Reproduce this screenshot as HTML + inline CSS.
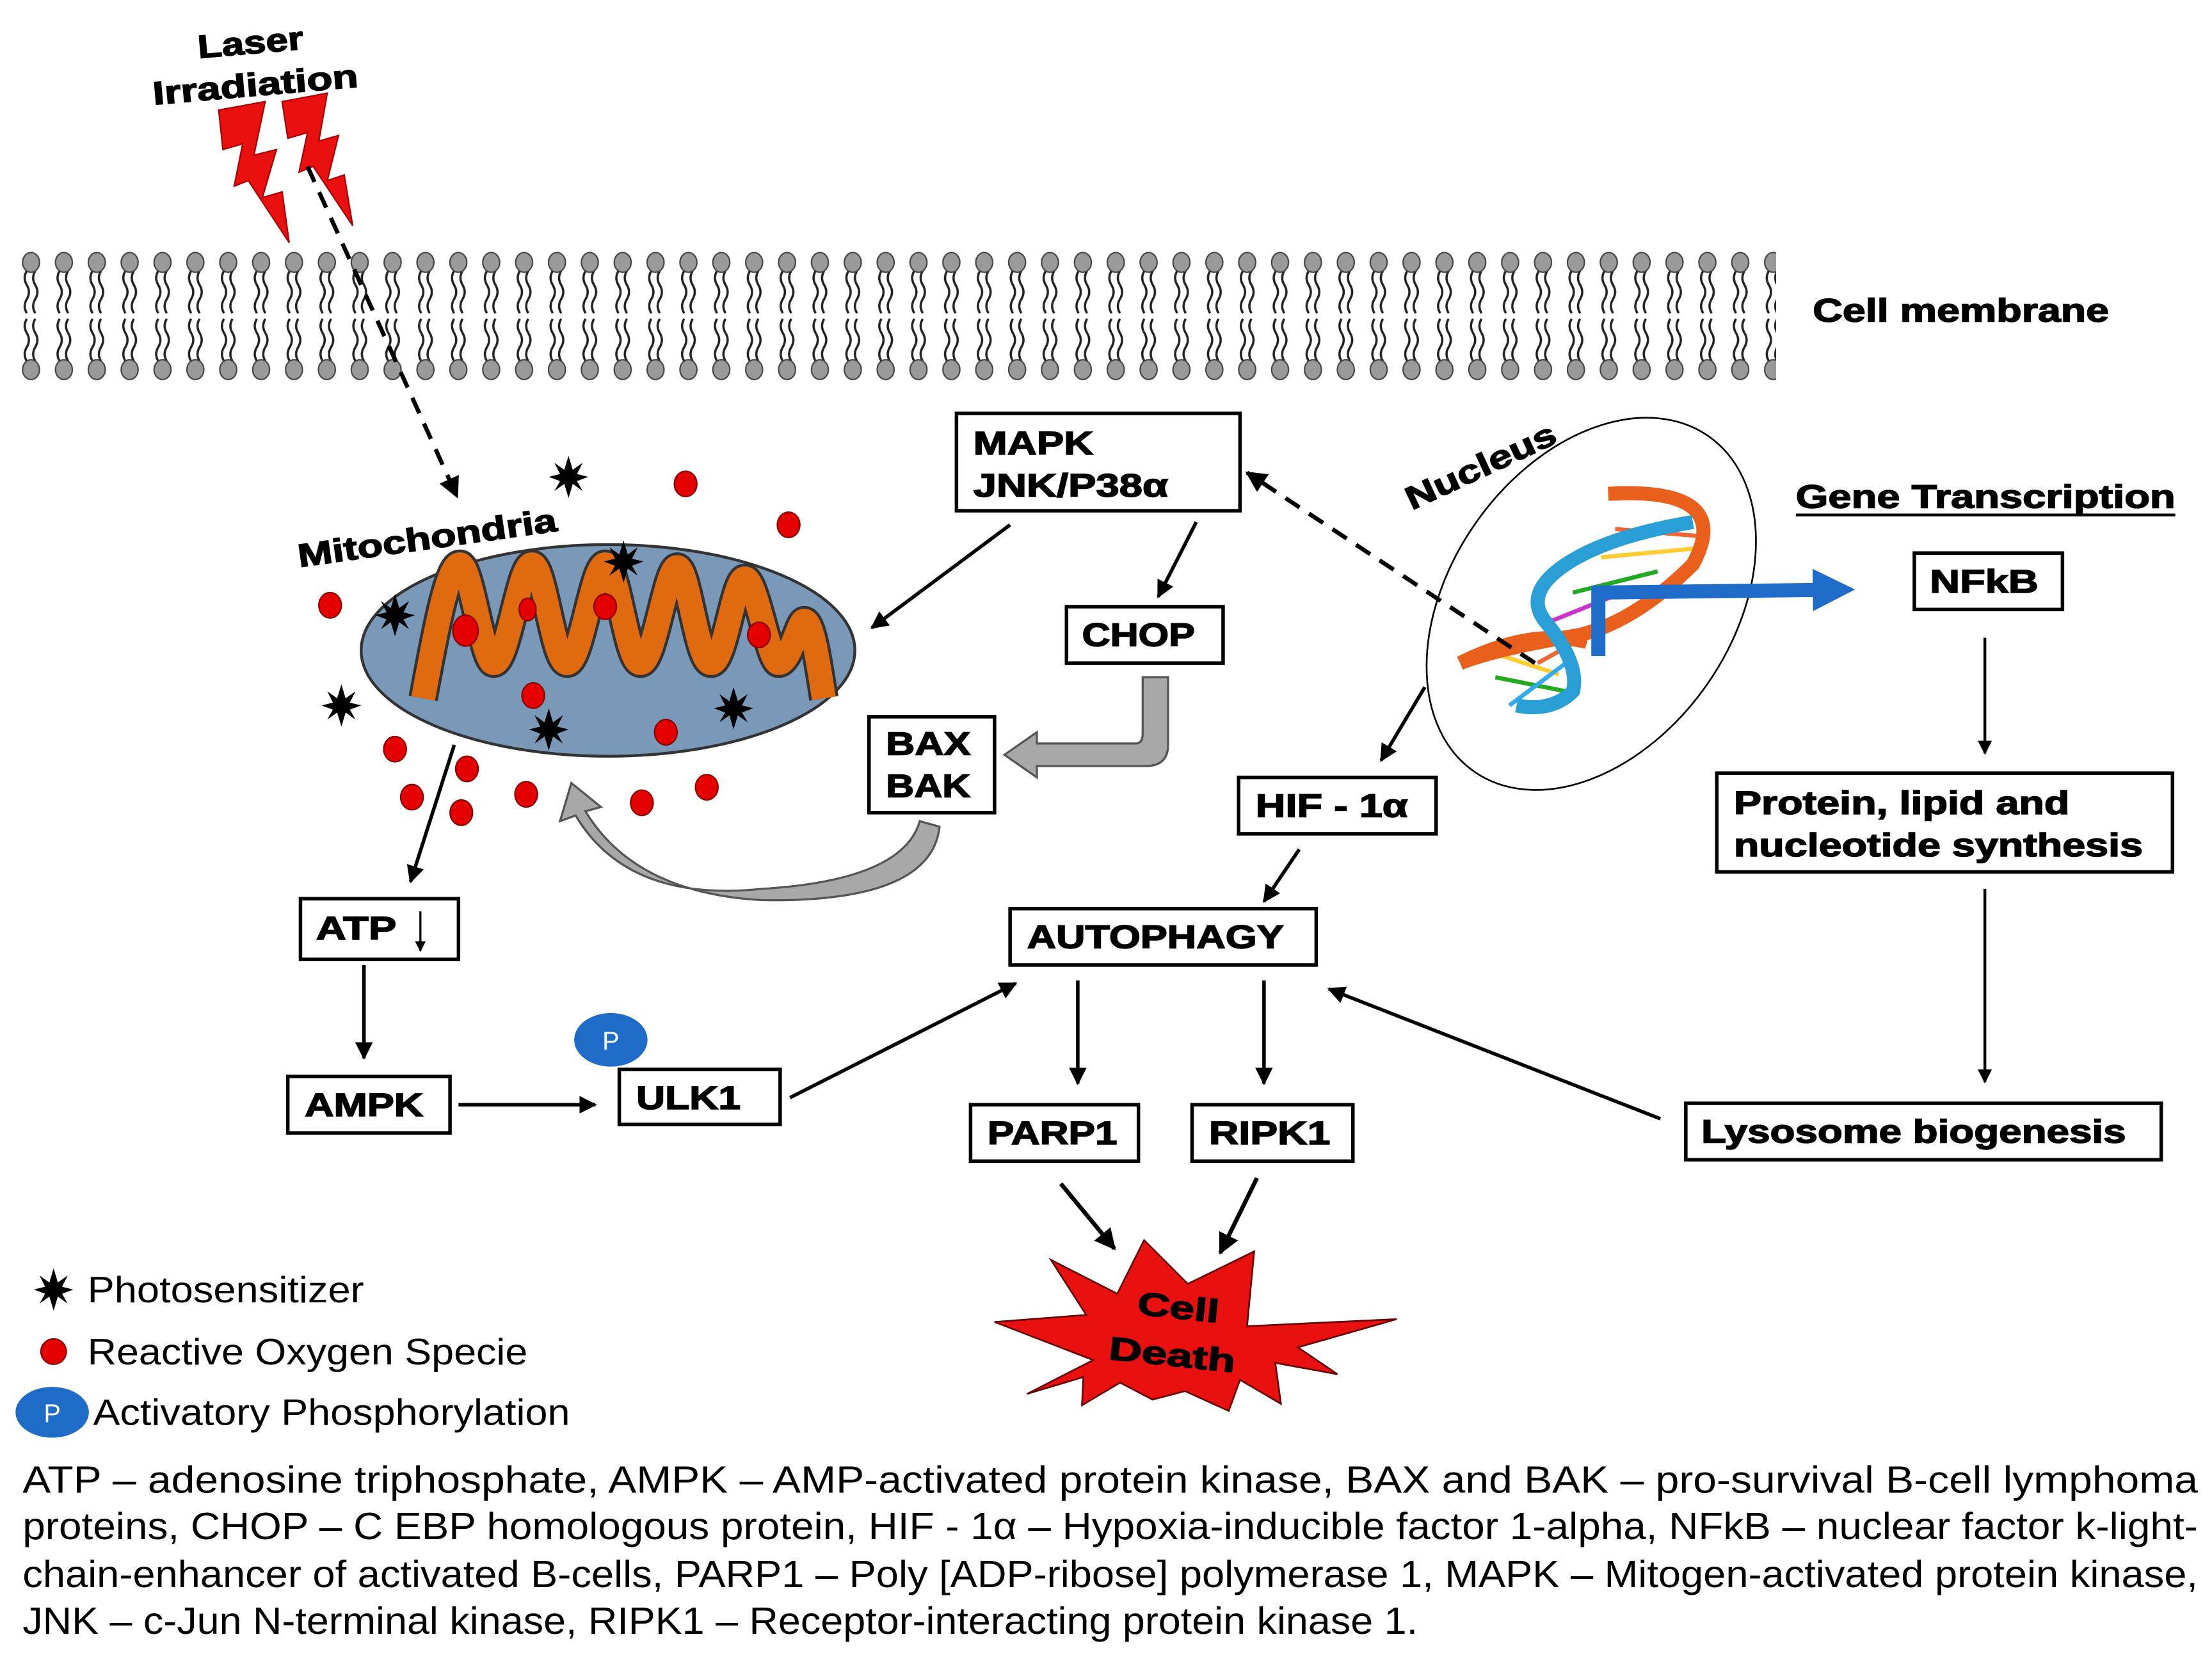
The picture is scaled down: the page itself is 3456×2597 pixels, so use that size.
<!DOCTYPE html>
<html><head><meta charset="utf-8"><style>
html,body{margin:0;padding:0;background:#fff;}
svg{display:block;}
text{font-family:"Liberation Sans",Arial,sans-serif;}
.b{font-weight:bold;font-size:23px;fill:#000;stroke:#000;stroke-width:0.7px;}
</style></head><body>
<svg width="3456" height="2597" viewBox="0 0 1568 1178" preserveAspectRatio="none" xmlns="http://www.w3.org/2000/svg">
<defs>
<marker id="ah" viewBox="0 0 10 10" refX="9" refY="5" markerWidth="5" markerHeight="5" orient="auto"><path d="M0,0 L10,5 L0,10 z" fill="#000"/></marker>
<marker id="ab" viewBox="0 0 10 10" refX="5" refY="5" markerWidth="3" markerHeight="3" orient="auto"><path d="M0,0 L10,5 L0,10 z" fill="#1f6cc8"/></marker>
<pattern id="lip" x="14" y="178" width="23.3" height="92" patternUnits="userSpaceOnUse">
<g fill="none" stroke="#222" stroke-width="1.6">
<path d="M5,14 q-3,5 0,10 q3,5 0,10 q-3,5 0,10"/>
<path d="M11,14 q-3,5 0,10 q3,5 0,10 q-3,5 0,10"/>
<path d="M5,78 q-3,-5 0,-10 q3,-5 0,-10 q-3,-5 0,-10"/>
<path d="M11,78 q-3,-5 0,-10 q3,-5 0,-10 q-3,-5 0,-10"/>
</g>
<ellipse cx="8" cy="8" rx="6" ry="7" fill="#9a9a9a" stroke="#444" stroke-width="1"/>
<ellipse cx="8" cy="84" rx="6" ry="7" fill="#9a9a9a" stroke="#444" stroke-width="1"/>
</pattern>
<g id="st"><polygon points="0,-15 3,-5 10,-10 6,-2 14,0 6,3 10,10 3,5 0,15 -3,5 -10,10 -6,3 -14,0 -6,-2 -10,-10 -3,-5" fill="#000"/></g>
</defs>

<text class="b" x="140" y="38" textLength="75" lengthAdjust="spacingAndGlyphs" transform="rotate(-5 178 30)">Laser</text>
<text class="b" x="108" y="68" textLength="146" lengthAdjust="spacingAndGlyphs" transform="rotate(-5 180 60)">Irradiation</text>
<polygon points="155,78 188,72 180,110 196,106 186,140 200,136 205,172 176,128 166,132 172,102 158,106" fill="#e8110f" stroke="#a00" stroke-width="1"/>
<polygon points="200,72 232,66 226,100 240,96 232,128 244,124 250,160 222,118 212,122 218,94 204,98" fill="#e8110f" stroke="#a00" stroke-width="1"/>

<rect x="14" y="178" width="1245" height="92" fill="url(#lip)"/>
<text class="b" x="1285" y="228" textLength="210" lengthAdjust="spacingAndGlyphs">Cell membrane</text>

<line x1="218" y1="118" x2="324" y2="352" stroke="#000" stroke-width="3" stroke-dasharray="12,8" marker-end="url(#ah)"/>

<text class="b" x="212" y="402" textLength="185" lengthAdjust="spacingAndGlyphs" transform="rotate(-8 212 400)">Mitochondria</text>
<ellipse cx="431" cy="461" rx="175" ry="75" fill="#7a98b8" stroke="#333" stroke-width="2"/>
<path d="M300,495 C310,440 318,400 326,400 C334,400 342,470 350,470 C360,470 368,400 377,400 C386,400 392,470 402,470 C412,470 420,400 429,400 C438,400 444,470 454,470 C464,470 472,402 480,402 C488,402 494,470 504,470 C514,470 520,410 528,410 C536,410 545,470 552,470 C560,470 566,440 570,440 C576,440 580,470 584,495" fill="none" stroke="#333" stroke-width="21" stroke-linejoin="round"/>
<path d="M300,495 C310,440 318,400 326,400 C334,400 342,470 350,470 C360,470 368,400 377,400 C386,400 392,470 402,470 C412,470 420,400 429,400 C438,400 444,470 454,470 C464,470 472,402 480,402 C488,402 494,470 504,470 C514,470 520,410 528,410 C536,410 545,470 552,470 C560,470 566,440 570,440 C576,440 580,470 584,495" fill="none" stroke="#e06a10" stroke-width="17" stroke-linejoin="round"/>
<g fill="#e50000" stroke="#800" stroke-width="1">
<ellipse cx="486" cy="343" rx="8" ry="9"/><ellipse cx="559" cy="372" rx="8" ry="9"/><ellipse cx="234" cy="429" rx="8" ry="9"/>
<ellipse cx="374" cy="432" rx="6" ry="8"/><ellipse cx="429" cy="430" rx="8" ry="9"/><ellipse cx="330" cy="447" rx="9" ry="11"/>
<ellipse cx="538" cy="450" rx="8" ry="9"/><ellipse cx="378" cy="493" rx="8" ry="9"/><ellipse cx="472" cy="519" rx="8" ry="9"/>
<ellipse cx="280" cy="531" rx="8" ry="9"/><ellipse cx="331" cy="545" rx="8" ry="9"/><ellipse cx="292" cy="565" rx="8" ry="9"/>
<ellipse cx="327" cy="576" rx="8" ry="9"/><ellipse cx="373" cy="563" rx="8" ry="9"/><ellipse cx="455" cy="569" rx="8" ry="9"/><ellipse cx="501" cy="558" rx="8" ry="9"/>
</g>
<use href="#st" x="403" y="338"/><use href="#st" x="442" y="398"/><use href="#st" x="280" y="436"/>
<use href="#st" x="242" y="500"/><use href="#st" x="389" y="517"/><use href="#st" x="520" y="502"/>

<rect x="678" y="293" width="201" height="69" fill="#fff" stroke="#000" stroke-width="2.5"/>
<text class="b" x="690" y="322" textLength="85" lengthAdjust="spacingAndGlyphs">MAPK</text>
<text class="b" x="690" y="352" textLength="138" lengthAdjust="spacingAndGlyphs">JNK/P38α</text>
<line x1="716" y1="372" x2="618" y2="445" stroke="#000" stroke-width="2.5" marker-end="url(#ah)"/>
<line x1="848" y1="370" x2="821" y2="423" stroke="#000" stroke-width="2.5" marker-end="url(#ah)"/>
<rect x="756" y="430" width="111" height="40" fill="#fff" stroke="#000" stroke-width="2.5"/>
<text class="b" x="767" y="458" textLength="80" lengthAdjust="spacingAndGlyphs">CHOP</text>
<path d="M810,480 L828,480 L828,528 Q828,543 812,543 L735,543 L735,551 L712,535 L735,519 L735,527 L805,527 Q810,527 810,520 Z" fill="#a8a8a8" stroke="#555" stroke-width="1.5"/>
<rect x="616" y="508" width="89" height="68" fill="#fff" stroke="#000" stroke-width="2.5"/>
<text class="b" x="628" y="535" textLength="60" lengthAdjust="spacingAndGlyphs">BAX</text>
<text class="b" x="628" y="565" textLength="60" lengthAdjust="spacingAndGlyphs">BAK</text>
<path d="M652,582 L666,586 Q660,640 540,638 Q450,633 415,575 L426,572 L405,555 L397,582 L408,578 Q445,640 540,630 Q640,624 652,582 Z" fill="#a8a8a8" stroke="#555" stroke-width="1.5"/>

<ellipse cx="1128" cy="428" rx="145" ry="100" transform="rotate(-55 1128 428)" fill="none" stroke="#000" stroke-width="1.2"/>
<text class="b" x="1000" y="362" textLength="115" lengthAdjust="spacingAndGlyphs" transform="rotate(-25 1000 360)">Nucleus</text>
<g stroke-width="3">
<line x1="1145" y1="375" x2="1205" y2="380" stroke="#e63"/><line x1="1135" y1="395" x2="1210" y2="388" stroke="#fc3"/>
<line x1="1115" y1="420" x2="1175" y2="405" stroke="#2a2"/><line x1="1100" y1="440" x2="1150" y2="420" stroke="#c3c"/>
<line x1="1090" y1="470" x2="1135" y2="445" stroke="#e63"/><line x1="1050" y1="460" x2="1105" y2="478" stroke="#fc3"/>
<line x1="1060" y1="480" x2="1110" y2="490" stroke="#2a2"/><line x1="1070" y1="500" x2="1110" y2="470" stroke="#3ae"/>
</g>
<path d="M1140,350 Q1230,345 1200,400 Q1160,440 1120,450 Q1060,460 1035,470" fill="none" stroke="#e8601c" stroke-width="10"/>
<path d="M1035,470 Q1085,445 1125,455" fill="none" stroke="#e8601c" stroke-width="10"/>
<path d="M1200,370 Q1140,380 1110,400 Q1080,420 1095,440 Q1120,470 1115,490 Q1100,505 1075,500" fill="none" stroke="#2a9fd6" stroke-width="10"/>
<path d="M1133,465 L1133,420 L1300,418" fill="none" stroke="#1f6cc8" stroke-width="10" marker-end="url(#ab)"/>
<line x1="1088" y1="470" x2="884" y2="335" stroke="#000" stroke-width="3" stroke-dasharray="12,8" marker-end="url(#ah)"/>
<line x1="1010" y1="487" x2="979" y2="539" stroke="#000" stroke-width="2.5" marker-end="url(#ah)"/>

<text class="b" x="1273" y="360" textLength="269" lengthAdjust="spacingAndGlyphs">Gene Transcription</text>
<line x1="1273" y1="365" x2="1542" y2="365" stroke="#000" stroke-width="2"/>
<rect x="1357" y="392" width="105" height="40" fill="#fff" stroke="#000" stroke-width="2.5"/>
<text class="b" x="1368" y="420" textLength="77" lengthAdjust="spacingAndGlyphs">NFkB</text>
<line x1="1407" y1="452" x2="1407" y2="534" stroke="#000" stroke-width="2" marker-end="url(#ah)"/>
<rect x="1217" y="548" width="323" height="70" fill="#fff" stroke="#000" stroke-width="2.5"/>
<text class="b" x="1229" y="577" textLength="238" lengthAdjust="spacingAndGlyphs">Protein, lipid and</text>
<text class="b" x="1229" y="607" textLength="290" lengthAdjust="spacingAndGlyphs">nucleotide synthesis</text>
<line x1="1407" y1="630" x2="1407" y2="767" stroke="#000" stroke-width="2" marker-end="url(#ah)"/>
<rect x="1195" y="782" width="337" height="40" fill="#fff" stroke="#000" stroke-width="2.5"/>
<text class="b" x="1206" y="810" textLength="301" lengthAdjust="spacingAndGlyphs">Lysosome biogenesis</text>
<line x1="1177" y1="793" x2="942" y2="701" stroke="#000" stroke-width="2.5" marker-end="url(#ah)"/>

<rect x="878" y="551" width="140" height="40" fill="#fff" stroke="#000" stroke-width="2.5"/>
<text class="b" x="890" y="579" textLength="108" lengthAdjust="spacingAndGlyphs">HIF - 1α</text>
<line x1="921" y1="602" x2="896" y2="639" stroke="#000" stroke-width="2.5" marker-end="url(#ah)"/>
<rect x="716" y="644" width="217" height="40" fill="#fff" stroke="#000" stroke-width="2.5"/>
<text class="b" x="728" y="672" textLength="182" lengthAdjust="spacingAndGlyphs">AUTOPHAGY</text>
<line x1="764" y1="695" x2="764" y2="768" stroke="#000" stroke-width="2.5" marker-end="url(#ah)"/>
<line x1="896" y1="695" x2="896" y2="768" stroke="#000" stroke-width="2.5" marker-end="url(#ah)"/>
<rect x="688" y="783" width="119" height="40" fill="#fff" stroke="#000" stroke-width="2.5"/>
<text class="b" x="700" y="811" textLength="92" lengthAdjust="spacingAndGlyphs">PARP1</text>
<rect x="845" y="783" width="114" height="40" fill="#fff" stroke="#000" stroke-width="2.5"/>
<text class="b" x="857" y="811" textLength="86" lengthAdjust="spacingAndGlyphs">RIPK1</text>
<line x1="752" y1="839" x2="790" y2="885" stroke="#000" stroke-width="3" marker-end="url(#ah)"/>
<line x1="891" y1="835" x2="865" y2="888" stroke="#000" stroke-width="3" marker-end="url(#ah)"/>
<polygon points="745,893 792,917 811,879 842,910 889,887 884,940 990,935 920,955 948,974 904,966 908,995 879,978 871,1000 840,986 817,992 794,980 767,996 768,976 728,988 775,964 705,937 770,932" fill="#e8110f" stroke="#600" stroke-width="1.2"/>
<text class="b" x="806" y="934" font-size="25" textLength="58" lengthAdjust="spacingAndGlyphs" transform="rotate(6 830 930)">Cell</text>
<text class="b" x="786" y="968" font-size="25" textLength="90" lengthAdjust="spacingAndGlyphs" transform="rotate(6 830 960)">Death</text>

<line x1="322" y1="528" x2="291" y2="625" stroke="#000" stroke-width="2.5" marker-end="url(#ah)"/>
<rect x="213" y="637" width="112" height="43" fill="#fff" stroke="#000" stroke-width="2.5"/>
<text class="b" x="224" y="666" textLength="57" lengthAdjust="spacingAndGlyphs">ATP</text>
<line x1="298" y1="646" x2="298" y2="674" stroke="#000" stroke-width="1.5" marker-end="url(#ah)"/>
<line x1="258" y1="684" x2="258" y2="750" stroke="#000" stroke-width="2.5" marker-end="url(#ah)"/>
<rect x="204" y="763" width="115" height="40" fill="#fff" stroke="#000" stroke-width="2.5"/>
<text class="b" x="216" y="791" textLength="84" lengthAdjust="spacingAndGlyphs">AMPK</text>
<line x1="325" y1="783" x2="422" y2="783" stroke="#000" stroke-width="2.5" marker-end="url(#ah)"/>
<rect x="439" y="758" width="114" height="39" fill="#fff" stroke="#000" stroke-width="2.5"/>
<text class="b" x="451" y="786" textLength="74" lengthAdjust="spacingAndGlyphs">ULK1</text>
<ellipse cx="433" cy="737" rx="26" ry="19" fill="#1f6cc8"/>
<text x="433" y="744" font-size="18" fill="#fff" text-anchor="middle">P</text>
<line x1="560" y1="778" x2="720" y2="697" stroke="#000" stroke-width="2.5" marker-end="url(#ah)"/>

<use href="#st" x="38" y="914"/>
<text x="62" y="923" font-size="26" textLength="196" lengthAdjust="spacingAndGlyphs">Photosensitizer</text>
<ellipse cx="38" cy="958" rx="9" ry="9" fill="#e50000" stroke="#800"/>
<text x="62" y="967" font-size="26" textLength="312" lengthAdjust="spacingAndGlyphs">Reactive Oxygen Specie</text>
<ellipse cx="37" cy="1001" rx="26" ry="18" fill="#1f6cc8"/>
<text x="37" y="1008" font-size="18" fill="#fff" text-anchor="middle">P</text>
<text x="66" y="1010" font-size="26" textLength="338" lengthAdjust="spacingAndGlyphs">Activatory Phosphorylation</text>

<g font-size="27">
<text x="16" y="1058" textLength="1542" lengthAdjust="spacingAndGlyphs">ATP – adenosine triphosphate, AMPK – AMP-activated protein kinase, BAX and BAK – pro-survival B-cell lymphoma</text>
<text x="16" y="1091" textLength="1542" lengthAdjust="spacingAndGlyphs">proteins, CHOP – C EBP homologous protein, HIF - 1α – Hypoxia-inducible factor 1-alpha, NFkB – nuclear factor k-light-</text>
<text x="16" y="1125" textLength="1542" lengthAdjust="spacingAndGlyphs">chain-enhancer of activated B-cells, PARP1 – Poly [ADP-ribose] polymerase 1, MAPK – Mitogen-activated protein kinase,</text>
<text x="16" y="1158" textLength="989" lengthAdjust="spacingAndGlyphs">JNK – c-Jun N-terminal kinase, RIPK1 – Receptor-interacting protein kinase 1.</text>
</g>
</svg>
</body></html>
